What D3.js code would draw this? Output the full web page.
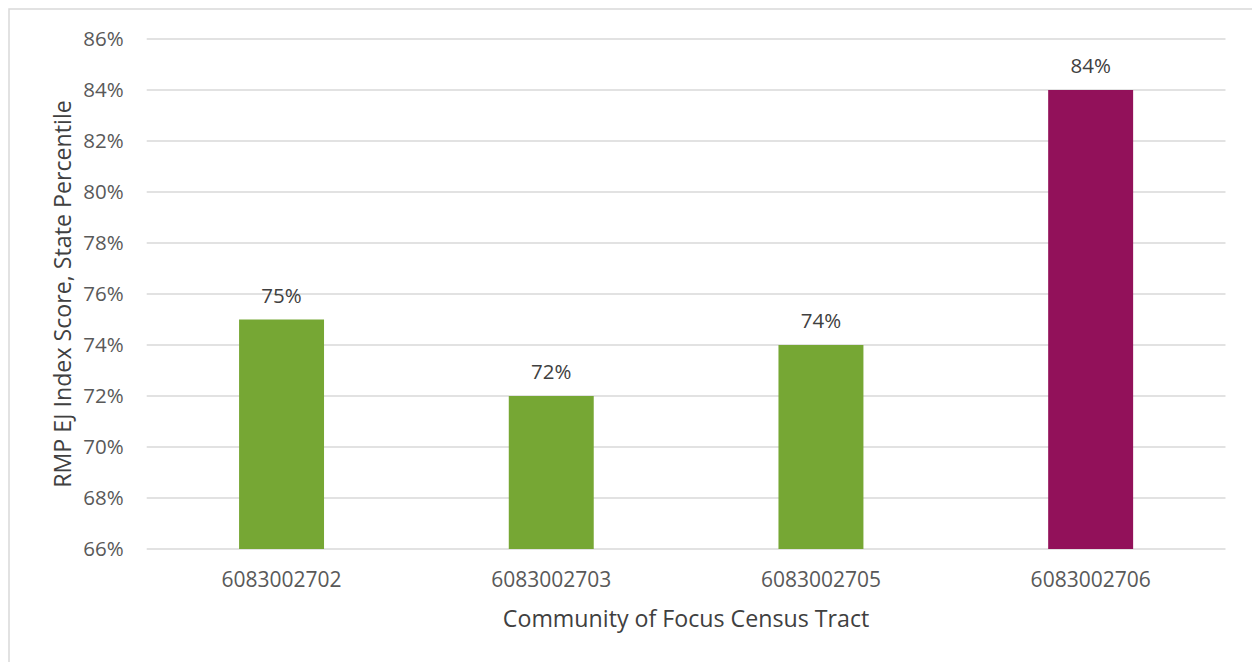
<!DOCTYPE html>
<html><head><meta charset="utf-8">
<script src="https://cdn.jsdelivr.net/npm/d3@7"></script>
<style>
html,body{margin:0;padding:0;background:#fff;}
svg{display:block;font-family:"Open Sans",sans-serif;}
</style></head>
<body>
<svg id="c" width="1252" height="662"></svg>
<script>
const categories = ["6083002702","6083002703","6083002705","6083002706"];
const values = [0.75, 0.72, 0.74, 0.84];
const barColors = ["#76a734","#76a734","#76a734","#92115a"];
const yTicks = [0.66,0.68,0.70,0.72,0.74,0.76,0.78,0.80,0.82,0.84,0.86];
const xTitle = "Community of Focus Census Tract";
const yTitle = "RMP EJ Index Score, State Percentile";

(function(){
const svg = d3.select("#c");
const pLeft = 146.7, pRight = 1225.5, pTop = 39, pBottom = 549;

svg.append("rect").attr("x",9).attr("y",9).attr("width",1300).attr("height",700)
  .attr("fill","none").attr("stroke","#d9d9d9").attr("stroke-width",1.5);

const x = d3.scaleBand().domain(categories).range([pLeft,pRight]).padding(0);
const y = d3.scaleLinear().domain([0.66,0.86]).range([pBottom,pTop]);
const fmt = d3.format(".0%");

svg.append("g").selectAll("line").data(yTicks).join("line")
  .attr("x1",pLeft).attr("x2",pRight)
  .attr("y1",d=>y(d)).attr("y2",d=>y(d))
  .attr("stroke","#d9d9d9").attr("stroke-width",1.5);

const yAxis = d3.axisLeft(y).tickValues(yTicks).tickFormat(fmt).tickSize(0).tickPadding(0);
const ga = svg.append("g").attr("transform",`translate(${pLeft-23},0)`).call(yAxis);
ga.select(".domain").remove();
ga.selectAll("text").attr("font-family","Open Sans").attr("font-size",20.5).attr("fill","#595959");

const bw = x.bandwidth()*0.315;
svg.append("g").selectAll("rect").data(values).join("rect")
  .attr("x",(d,i)=>x(categories[i])+x.bandwidth()/2-bw/2)
  .attr("width",bw)
  .attr("y",d=>y(d)).attr("height",d=>pBottom-y(d))
  .attr("fill",(d,i)=>barColors[i]);

svg.append("g").selectAll("text").data(values).join("text")
  .attr("x",(d,i)=>x(categories[i])+x.bandwidth()/2)
  .attr("y",d=>y(d)-17)
  .attr("text-anchor","middle").attr("font-size",20.5).attr("fill","#404040")
  .text(d=>fmt(d));

const xAxis = d3.axisBottom(x).tickSize(0).tickPadding(0);
const gx = svg.append("g").attr("transform",`translate(0,${pBottom})`).call(xAxis);
gx.select(".domain").remove();
gx.selectAll("text").attr("font-family","Open Sans").attr("font-size",21).attr("fill","#595959")
  .attr("dy",null).attr("y",38);

svg.append("text").attr("x",(pLeft+pRight)/2).attr("y",627).attr("text-anchor","middle")
  .attr("font-size",23.2).attr("fill","#404040").text(xTitle);
svg.append("text").attr("transform",`translate(71,${(pTop+pBottom)/2}) rotate(-90)`)
  .attr("text-anchor","middle").attr("font-size",23.2).attr("fill","#404040").text(yTitle);
})();
</script>
</body></html>
